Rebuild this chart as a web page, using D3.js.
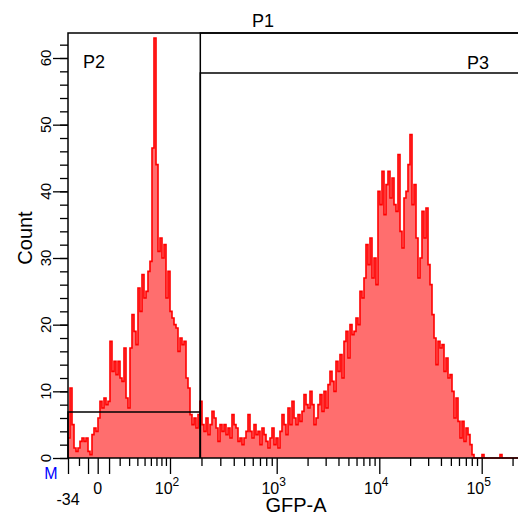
<!DOCTYPE html>
<html>
<head>
<meta charset="utf-8">
<script src="https://cdn.jsdelivr.net/npm/d3@7"></script>
<style>
body { margin: 0; background: #fff; }
text { font-family: "Liberation Sans", Arial, sans-serif; fill: #000; }
</style>
</head>
<body>
<svg></svg>
<script>
// counts per display channel (channels evenly spaced along the biexponential GFP-A axis)
const counts = [
	3, 10.5, 5, 1.5, 1, 1.5, 2.5, 3, 2.5, 3, 1, 0.5, 3.5, 4.5, 4, 6, 8.5, 7.5, 9, 8,
	8.5, 17.5, 13, 14.5, 12.5, 14.5, 12, 11.5, 16.5, 9, 7.5, 16.5, 21.5, 19, 17, 25.5, 22, 27.5, 24, 25,
	28, 29.5, 46.5, 63, 44, 31, 33, 30, 32, 24, 28, 22, 21, 20, 19.5, 16, 18, 17, 17.5, 12,
	10.5, 6.5, 5, 6, 4.5, 6.5, 8.5, 5, 4, 6, 3.5, 5, 7, 6, 4.5, 2.5, 5, 4, 5, 3.5,
	4.5, 3, 6.5, 5, 4.5, 2.5, 3, 2, 3, 4, 6.5, 4, 3, 5, 3.5, 4, 2, 4.5, 3.5, 2.5,
	1.5, 3, 4.5, 2, 3, 1.5, 4, 6.5, 5, 3.5, 7.5, 5, 8.5, 6, 5, 6.5, 5.5, 7, 9.5, 8,
	7.5, 10, 8, 5, 6, 8, 9.5, 7, 10, 7.5, 11, 13, 11.5, 10, 14.5, 13, 15.5, 12, 17.5, 19,
	15, 20, 18.5, 19, 21, 20, 25, 24, 27, 32, 29, 33, 27, 30, 26, 40, 38, 43, 36.5, 41,
	43, 39, 42, 38, 37, 45.5, 34, 31.5, 39, 40, 44, 48.5, 38, 41, 33, 27, 30, 37, 33, 37.5,
	29, 26, 21.5, 18, 14, 17.5, 16.5, 17, 13, 15, 12, 12.5, 10, 6, 9, 5.5, 3, 5.5, 2.5, 4.5,
	3.5, 2, 0.5, 0, 0, 0, 0, 0.5, 0, 0, 0, 0, 0, 0, 0, 0, 0.5, 0, 0, 0,
	0, 0, 0, 0, 0
];

const majorTicks = [-34, -10, 0, 10, 100, 1000, 10000, 100000];
const minorTicks = [-20, 20, 30, 40, 50, 60, 70, 80, 90,
	200, 300, 400, 500, 600, 700, 800, 900,
	2000, 3000, 4000, 5000, 6000, 7000, 8000, 9000,
	20000, 30000, 40000, 50000, 60000, 70000, 80000, 90000, 200000];
const tickLabels = [
	{ v: -34, base: '-34', exp: '' },
	{ v: 0, base: '0', exp: '' },
	{ v: 100, base: '10', exp: '2' },
	{ v: 1000, base: '10', exp: '3' },
	{ v: 10000, base: '10', exp: '4' },
	{ v: 100000, base: '10', exp: '5' }
];
const countMajor = [0, 10, 20, 30, 40, 50, 60];
const countMinor = d3.range(0, 64, 2);

// gates: value range and bar height (count units)
const gates = [
	{ name: 'P1', lo: 195, hi: 262143, level: 63.75 },
	{ name: 'P2', lo: -34, hi: 195, level: 6.9 },
	{ name: 'P3', lo: 195, hi: 262143, level: 57.75 }
];

const svg = d3.select('svg')
	.attr('width', 518)
	.attr('height', 520);

const margin = { top: 33, left: 68 },
	innerHeight = 425,
	chan = 2;

// biexponential-like display transform, pinned at the decade marks
const T = v => Math.asinh(v / 36);
const anchors = [-34, 0, 100, 1000, 10000, 100000, 262143];
const xT = d3.scaleLinear()
	.domain(anchors.map(T))
	.range([68, 97.7, 170, 276.7, 379.3, 481.7, 524.6]);
const xValue = v => xT(T(v));

const xChan = d3.scaleLinear()
	.domain([0, counts.length])
	.range([margin.left, margin.left + counts.length * chan]);

const yScale = d3.scaleLinear()
	.domain([0, 63.75])
	.range([margin.top + innerHeight, margin.top]);

const y0 = yScale(0);

// histogram
const pts = counts.concat([counts[counts.length - 1]]);
const area = d3.area()
	.x((d, i) => xChan(i))
	.y0(y0)
	.y1(d => yScale(d))
	.curve(d3.curveStepAfter);
const line = d3.line()
	.x((d, i) => xChan(i))
	.y(d => yScale(d))
	.curve(d3.curveStepAfter);

svg.append('path')
	.attr('d', area(pts))
	.attr('fill', '#ff6e6e');
svg.append('path')
	.attr('d', line(pts))
	.attr('fill', 'none')
	.attr('stroke', '#ff0000')
	.attr('stroke-width', 1.6);

// x axis
const xAxisMinor = d3.axisBottom(xT)
	.tickValues(minorTicks.map(T))
	.tickSize(8)
	.tickFormat('');
const xAxisMajor = d3.axisBottom(xT)
	.tickValues(majorTicks.map(T))
	.tickSize(16)
	.tickFormat('');
[xAxisMinor, xAxisMajor].forEach(ax => {
	const g = svg.append('g')
		.attr('transform', `translate(0, ${y0})`)
		.call(ax);
	g.select('.domain').remove();
	g.selectAll('line').attr('stroke', '#000').attr('stroke-width', 1.3);
});

const lab = svg.append('g')
	.selectAll('text')
	.data(tickLabels)
	.join('text')
	.attr('x', d => xValue(d.v) + (d.exp ? -3 : 0))
	.attr('y', d => d.v < 0 ? 505 : 494)
	.attr('text-anchor', 'middle')
	.style('font-size', '16px');
lab.append('tspan').text(d => d.base);
lab.filter(d => d.exp)
	.append('tspan')
	.attr('dy', -8)
	.style('font-size', '12px')
	.text(d => d.exp);

// y axis
const yAxisMinor = d3.axisLeft(yScale)
	.tickValues(countMinor)
	.tickSize(8)
	.tickFormat('');
const yAxisMajor = d3.axisLeft(yScale)
	.tickValues(countMajor)
	.tickSize(15)
	.tickFormat('');
[yAxisMinor, yAxisMajor].forEach(ax => {
	const g = svg.append('g')
		.attr('transform', `translate(${margin.left}, 0)`)
		.call(ax);
	g.select('.domain').remove();
	g.selectAll('line').attr('stroke', '#000').attr('stroke-width', 1.3);
});

svg.append('g')
	.selectAll('text')
	.data(countMajor)
	.join('text')
	.attr('transform', d => `translate(51, ${yScale(d)}) rotate(-90)`)
	.attr('text-anchor', 'middle')
	.style('font-size', '15px')
	.text(d => d);

// frame
svg.append('path')
	.attr('d', `M${margin.left},${y0}V${margin.top}H518M${margin.left},${y0}H518`)
	.attr('fill', 'none')
	.attr('stroke', '#000')
	.attr('stroke-width', 1.5);

// gates
const gateG = svg.append('g')
	.attr('fill', 'none')
	.attr('stroke', '#000')
	.attr('stroke-width', 1.5);
gates.forEach(gt => {
	const x1 = xValue(gt.lo), x2 = xValue(gt.hi), yl = yScale(gt.level);
	gateG.append('path')
		.attr('d', `M${x1},${y0}V${yl}H${x2}V${y0}`);
});

const gateLabels = [
	{ name: 'P1', x: 263, y: 27, anchor: 'middle' },
	{ name: 'P2', x: 83, y: 68, anchor: 'start' },
	{ name: 'P3', x: 467, y: 69, anchor: 'start' }
];
svg.append('g')
	.selectAll('text')
	.data(gateLabels)
	.join('text')
	.attr('x', d => d.x)
	.attr('y', d => d.y)
	.attr('text-anchor', d => d.anchor)
	.style('font-size', '18px')
	.text(d => d.name);

// axis titles
svg.append('text')
	.attr('x', 296)
	.attr('y', 512)
	.attr('text-anchor', 'middle')
	.style('font-size', '20px')
	.text('GFP-A');

svg.append('text')
	.attr('transform', 'translate(32, 238) rotate(-90)')
	.attr('text-anchor', 'middle')
	.style('font-size', '20px')
	.text('Count');

svg.append('text')
	.attr('x', 51)
	.attr('y', 479)
	.attr('text-anchor', 'middle')
	.style('font-size', '16px')
	.style('fill', '#0000ff')
	.text('M');
</script>
</body>
</html>
